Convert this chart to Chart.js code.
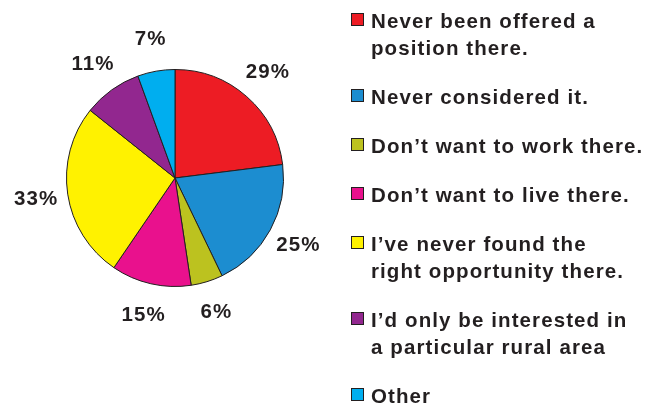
<!DOCTYPE html>
<html>
<head>
<meta charset="utf-8">
<script src="https://cdn.jsdelivr.net/npm/chart.js@4.4.1/dist/chart.umd.min.js"></script>
<style>
  body { margin: 0; background: #fff; }
  #wrap { position: relative; width: 646px; height: 405px; }
  #chart { position: absolute; left: 0; top: 0; }
  #legend {
    position: absolute; left: 351px; top: 7px;
    list-style: none; margin: 0; padding: 0;
    font-family: "Liberation Sans", Arial, sans-serif;
    font-weight: bold; font-size: 20.5px; letter-spacing: 1.1px;
    line-height: 27px; color: #231f20;
  }
  #legend li { display: flex; align-items: flex-start; margin-bottom: 22px; }
  #legend .box {
    flex: none; width: 11px; height: 11px; margin-top: 5.5px; margin-right: 7px;
    border: 1px solid #231f20;
  }
</style>
</head>
<body>
<div id="wrap">
  <canvas id="chart" width="646" height="405"></canvas>
  <ul id="legend"></ul>
</div>
<script>
// Catégories et valeurs
const categories = [
  ['Never been offered a', 'position there.'],
  ['Never considered it.'],
  ['Don\u2019t want to work there.'],
  ['Don\u2019t want to live there.'],
  ['I\u2019ve never found the', 'right opportunity there.'],
  ['I\u2019d only be interested in', 'a particular rural area'],
  ['Other']
];
const percents = [29, 25, 6, 15, 33, 11, 7];

// Couleurs des parts
const sliceColors = ['#ed1c24', '#1c8dd0', '#bcc21f', '#e9118d', '#fff200', '#92278f', '#00aeef'];

// Étiquettes de pourcentage autour du camembert
const percentLabels = {
  id: 'percentLabels',
  afterDatasetsDraw(chart) {
    const ctx = chart.ctx;
    const meta = chart.getDatasetMeta(0);
    ctx.save();
    ctx.font = 'bold 20.5px "Liberation Sans", Arial, sans-serif';
    if ('letterSpacing' in ctx) ctx.letterSpacing = '1.1px';
    ctx.fillStyle = '#231f20';
    ctx.textAlign = 'center';
    ctx.textBaseline = 'middle';
    meta.data.forEach((arc, i) => {
      const p = arc.getProps(['x', 'y', 'startAngle', 'endAngle', 'outerRadius'], true);
      const mid = (p.startAngle + p.endAngle) / 2;
      const r = p.outerRadius + 32;
      ctx.fillText(percents[i] + '%', p.x + Math.cos(mid) * r, p.y + Math.sin(mid) * r);
    });
    ctx.restore();
  }
};

const chart = new Chart(document.getElementById('chart'), {
  type: 'pie',
  data: {
    labels: categories.map(c => c.join(' ')),
    datasets: [{
      data: percents,
      backgroundColor: sliceColors,
      borderColor: '#231f20',
      borderWidth: 1
    }]
  },
  options: {
    responsive: false,
    animation: false,
    layout: { padding: { left: 66, right: 362, top: 69, bottom: 118 } },
    plugins: {
      legend: { display: false },
      tooltip: { enabled: false }
    }
  },
  plugins: [percentLabels]
});

// Légende HTML construite à partir des données du graphique
const legendEl = document.getElementById('legend');
chart.data.labels.forEach((lbl, i) => {
  const li = document.createElement('li');
  const box = document.createElement('span');
  box.className = 'box';
  box.style.background = chart.data.datasets[0].backgroundColor[i];
  const txt = document.createElement('span');
  txt.innerHTML = categories[i].join('<br>');
  li.appendChild(box);
  li.appendChild(txt);
  legendEl.appendChild(li);
});
</script>
</body>
</html>
